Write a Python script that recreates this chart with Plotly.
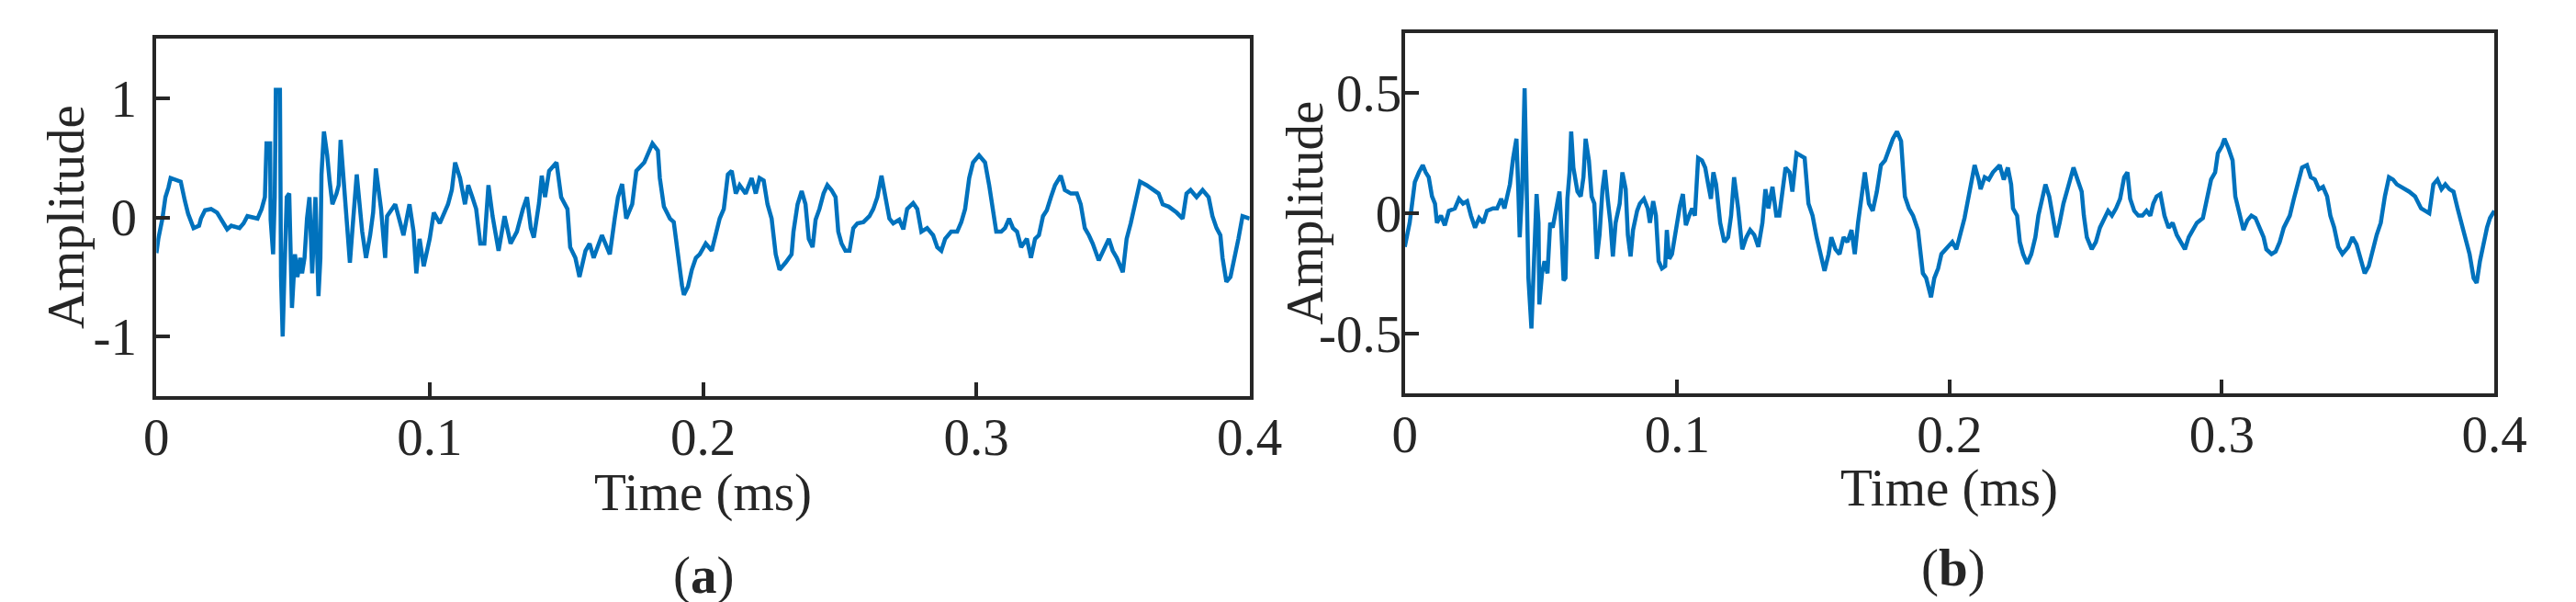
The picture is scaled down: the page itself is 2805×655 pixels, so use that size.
import plotly.graph_objects as go

# ---------------- data: panel (a) ----------------
t_a = [0.0000, 0.0007, 0.0022, 0.0033, 0.0044, 0.0052, 0.0089, 0.0096, 0.0104, 0.0116,
       0.0126, 0.0136, 0.0156, 0.0163, 0.0178, 0.0200, 0.0222, 0.0244, 0.0259, 0.0274,
       0.0304, 0.0319, 0.0333, 0.0370, 0.0385, 0.0397, 0.0403, 0.0416, 0.0418, 0.0427,
       0.0433, 0.0437, 0.0452, 0.0456, 0.0462, 0.0468, 0.0477, 0.0486, 0.0496, 0.0507,
       0.0516, 0.0526, 0.0533, 0.0542, 0.0551, 0.0560, 0.0570, 0.0582, 0.0593, 0.0600,
       0.0604, 0.0613, 0.0625, 0.0634, 0.0644, 0.0659, 0.0667, 0.0674, 0.0689, 0.0708,
       0.0719, 0.0733, 0.0753, 0.0767, 0.0782, 0.0793, 0.0803, 0.0822, 0.0837, 0.0844,
       0.0874, 0.0904, 0.0926, 0.0941, 0.0951, 0.0963, 0.0978, 0.1000, 0.1015, 0.1037,
       0.1067, 0.1081, 0.1093, 0.1111, 0.1129, 0.1141, 0.1156, 0.1170, 0.1185, 0.1200,
       0.1215, 0.1230, 0.1252, 0.1274, 0.1296, 0.1319, 0.1341, 0.1356, 0.1370, 0.1381,
       0.1400, 0.1410, 0.1422, 0.1437, 0.1464, 0.1481, 0.1504, 0.1514, 0.1533, 0.1548,
       0.1570, 0.1585, 0.1600, 0.1630, 0.1659, 0.1667, 0.1677, 0.1689, 0.1704, 0.1719,
       0.1741, 0.1756, 0.1785, 0.1815,
       0.1835, 0.1842, 0.1857, 0.1879, 0.1893, 0.1901, 0.1911, 0.1923, 0.1930, 0.1945,
       0.1959, 0.1974, 0.1988, 0.2010, 0.2032, 0.2047, 0.2061, 0.2076, 0.2091, 0.2105,
       0.2120, 0.2134, 0.2156, 0.2178, 0.2193, 0.2207, 0.2222, 0.2236, 0.2251, 0.2266,
       0.2280, 0.2302, 0.2324, 0.2331, 0.2346, 0.2361, 0.2375, 0.2387, 0.2401, 0.2412,
       0.2426, 0.2441, 0.2455, 0.2470, 0.2485, 0.2495, 0.2507, 0.2521, 0.2536, 0.2550,
       0.2565, 0.2587, 0.2609, 0.2623, 0.2638, 0.2653, 0.2667, 0.2682, 0.2696, 0.2718,
       0.2733, 0.2747, 0.2769, 0.2784, 0.2799, 0.2820, 0.2842, 0.2857, 0.2872, 0.2886,
       0.2908, 0.2930, 0.2945, 0.2959, 0.2974, 0.2988, 0.3010, 0.3032, 0.3047, 0.3061,
       0.3073, 0.3091, 0.3105, 0.3120, 0.3134, 0.3149, 0.3164, 0.3185, 0.3200, 0.3215,
       0.3229, 0.3244, 0.3258, 0.3273, 0.3288, 0.3309, 0.3324, 0.3346, 0.3368, 0.3382,
       0.3397, 0.3412, 0.3426, 0.3448, 0.3463, 0.3485, 0.3499, 0.3514, 0.3536, 0.3550,
       0.3565, 0.3587, 0.3599, 0.3623, 0.3645, 0.3667, 0.3682, 0.3704, 0.3733, 0.3755,
       0.3769, 0.3784, 0.3806, 0.3828, 0.3850, 0.3864, 0.3879, 0.3893, 0.3901, 0.3915,
       0.3930, 0.3945, 0.3959, 0.3974, 0.4000]

amp_a = [-0.30, -0.18, -0.01, 0.17, 0.25, 0.33, 0.30, 0.20, 0.14, 0.03,
         -0.02, -0.09, -0.07, -0.01, 0.06, 0.07, 0.04, -0.05, -0.10, -0.07,
         -0.09, -0.05, 0.01, -0.01, 0.07, 0.17, 0.62, 0.62, -0.02, -0.31,
         0.17, 1.07, 1.07, -0.50, -1.00, -0.50, 0.17, 0.20, -0.76, -0.31,
         -0.50, -0.34, -0.47, -0.34, -0.01, 0.17, -0.47, 0.17, -0.66, -0.34,
         0.36, 0.72, 0.52, 0.30, 0.11, 0.20, 0.27, 0.65, 0.17, -0.38,
         -0.05, 0.36, -0.12, -0.34, -0.15, 0.04, 0.41, 0.07, -0.34, 0.01,
         0.11, -0.15, 0.11, -0.12, -0.47, -0.18, -0.41, -0.18, 0.04, -0.05,
         0.11, 0.23, 0.46, 0.33, 0.11, 0.27, 0.17, 0.07, -0.22, -0.22,
         0.27, 0.01, -0.28, 0.01, -0.22, -0.12, 0.07, 0.17, -0.09, -0.17,
         0.12, 0.35, 0.17, 0.39, 0.46, 0.17, 0.07, -0.25, -0.34, -0.50,
         -0.28, -0.22, -0.34, -0.15, -0.31, -0.15, -0.01, 0.17, 0.28, -0.01,
         0.11, 0.39, 0.46, 0.62,
         0.56, 0.33, 0.09, -0.01, -0.04, -0.18, -0.38, -0.57, -0.65, -0.58,
         -0.44, -0.34, -0.31, -0.22, -0.28, -0.12, -0.01, 0.07, 0.36, 0.39,
         0.20, 0.27, 0.20, 0.33, 0.20, 0.33, 0.31, 0.11, -0.01, -0.31,
         -0.44, -0.38, -0.31, -0.12, 0.11, 0.22, 0.11, -0.18, -0.25, -0.02,
         0.07, 0.20, 0.27, 0.23, 0.17, -0.12, -0.22, -0.28, -0.28, -0.09,
         -0.05, -0.04, 0.01, 0.07, 0.17, 0.35, 0.17, -0.01, -0.05, -0.02,
         -0.10, 0.07, 0.12, 0.07, -0.12, -0.09, -0.15, -0.25, -0.28, -0.18,
         -0.12, -0.12, -0.04, 0.07, 0.33, 0.46, 0.52, 0.46, 0.27, 0.07,
         -0.12, -0.12, -0.09, -0.01, -0.09, -0.12, -0.25, -0.18, -0.34, -0.18,
         -0.15, 0.01, 0.06, 0.17, 0.27, 0.35, 0.23, 0.20, 0.20, 0.11,
         -0.09, -0.15, -0.22, -0.36, -0.28, -0.18, -0.28, -0.34, -0.46, -0.18,
         -0.05, 0.17, 0.30, 0.27, 0.23, 0.20, 0.11, 0.09, 0.04, -0.01,
         0.20, 0.23, 0.17, 0.23, 0.17, 0.01, -0.09, -0.15, -0.34, -0.54,
         -0.50, -0.34, -0.18, 0.01, -0.01]

# ---------------- data: panel (b) ----------------
t_b = [0.0000, 0.0007, 0.0018, 0.0027, 0.0037, 0.0052, 0.0066, 0.0077, 0.0088, 0.0100,
       0.0111, 0.0118, 0.0133, 0.0147, 0.0162, 0.0184, 0.0199, 0.0214, 0.0229, 0.0243,
       0.0258, 0.0273, 0.0288, 0.0302, 0.0324, 0.0339, 0.0354, 0.0366, 0.0376, 0.0386,
       0.0398, 0.0410, 0.0417, 0.0422, 0.0431, 0.0440, 0.0447, 0.0454, 0.0465, 0.0475,
       0.0484, 0.0491, 0.0494, 0.0504, 0.0513, 0.0524, 0.0534, 0.0543, 0.0553, 0.0568,
       0.0575, 0.0583, 0.0590, 0.0597, 0.0605, 0.0611, 0.0619, 0.0634, 0.0646, 0.0656,
       0.0664, 0.0676, 0.0686, 0.0696, 0.0705, 0.0715, 0.0726, 0.0735, 0.0745, 0.0755,
       0.0764, 0.0774, 0.0789, 0.0799, 0.0811, 0.0819, 0.0829, 0.0838, 0.0853, 0.0863,
       0.0878, 0.0892, 0.0900, 0.0912, 0.0922, 0.0932, 0.0944, 0.0956, 0.0962, 0.0971,
       0.0981, 0.0991, 0.1003, 0.1010, 0.1021, 0.1032, 0.1044, 0.1055, 0.1065, 0.1077,
       0.1091, 0.1103, 0.1114, 0.1124, 0.1133, 0.1143, 0.1158, 0.1173, 0.1187, 0.1198,
       0.1209, 0.1224, 0.1239, 0.1254, 0.1268, 0.1283, 0.1298, 0.1313, 0.1324, 0.1335,
       0.1350, 0.1364, 0.1375, 0.1386, 0.1398, 0.1413, 0.1423, 0.1438, 0.1453, 0.1468,
       0.1482, 0.1497, 0.1512, 0.1527, 0.1541, 0.1556, 0.1566, 0.1581, 0.1596, 0.1611,
       0.1625, 0.1640, 0.1652, 0.1664, 0.1678, 0.1689, 0.1704, 0.1718, 0.1733, 0.1748,
       0.1763, 0.1777, 0.1792, 0.1807, 0.1822, 0.1836, 0.1851, 0.1866,
       0.1884, 0.1892, 0.1902, 0.1914, 0.1926, 0.1932, 0.1944, 0.1958, 0.1970, 0.1988,
       0.2010, 0.2025, 0.2040, 0.2055, 0.2065, 0.2077, 0.2092, 0.2107, 0.2114, 0.2129,
       0.2144, 0.2159, 0.2174, 0.2184, 0.2199, 0.2214, 0.2226, 0.2233, 0.2248, 0.2258,
       0.2270, 0.2285, 0.2300, 0.2315, 0.2326, 0.2337, 0.2352, 0.2366, 0.2381, 0.2392,
       0.2404, 0.2418, 0.2433, 0.2448, 0.2455, 0.2470, 0.2485, 0.2493, 0.2504, 0.2522,
       0.2537, 0.2552, 0.2567, 0.2582, 0.2596, 0.2611, 0.2626, 0.2641, 0.2653, 0.2663,
       0.2678, 0.2693, 0.2708, 0.2723, 0.2737, 0.2748, 0.2760, 0.2774, 0.2789, 0.2804,
       0.2819, 0.2834, 0.2849, 0.2864, 0.2878, 0.2893, 0.2908, 0.2930, 0.2945, 0.2960,
       0.2975, 0.2985, 0.3000, 0.3009, 0.3024, 0.3039, 0.3049, 0.3064, 0.3079, 0.3093,
       0.3108, 0.3123, 0.3138, 0.3153, 0.3163, 0.3182, 0.3197, 0.3212, 0.3227, 0.3249,
       0.3264, 0.3279, 0.3294, 0.3312, 0.3326, 0.3341, 0.3356, 0.3371, 0.3386, 0.3398,
       0.3412, 0.3427, 0.3442, 0.3464, 0.3479, 0.3494, 0.3509, 0.3524, 0.3539, 0.3553,
       0.3568, 0.3583, 0.3598, 0.3613, 0.3628, 0.3642, 0.3657, 0.3672, 0.3687, 0.3709,
       0.3731, 0.3746, 0.3761, 0.3776, 0.3791, 0.3806, 0.3820, 0.3835, 0.3850, 0.3865,
       0.3880, 0.3895, 0.3909, 0.3924, 0.3935, 0.3947, 0.3961, 0.3973, 0.3984, 0.4000]

amp_b = [-0.14, -0.10, -0.04, 0.04, 0.13, 0.17, 0.20, 0.17, 0.15, 0.07,
         0.04, -0.04, -0.01, -0.05, 0.01, 0.02, 0.06, 0.04, 0.05, -0.01,
         -0.06, -0.02, -0.04, 0.01, 0.02, 0.02, 0.06, 0.02, 0.08, 0.12,
         0.23, 0.31, 0.09, -0.10, 0.10, 0.52, 0.14, -0.27, -0.48, -0.12,
         0.08, -0.04, -0.38, -0.25, -0.20, -0.25, -0.04, -0.06, 0.01, 0.09,
         -0.07, -0.28, -0.27, 0.06, 0.17, 0.34, 0.19, 0.09, 0.07, 0.15,
         0.31, 0.22, 0.07, 0.04, -0.19, -0.09, 0.10, 0.18, 0.06, -0.04,
         -0.18, -0.04, 0.04, 0.17, 0.10, -0.09, -0.18, -0.07, 0.01, 0.04,
         0.06, 0.02, -0.04, 0.05, -0.01, -0.20, -0.23, -0.22, -0.07, -0.19,
         -0.17, -0.10, -0.04, 0.03, 0.08, -0.05, -0.01, 0.02, -0.01, 0.23,
         0.22, 0.19, 0.12, 0.06, 0.17, 0.12, -0.04, -0.12, -0.10, -0.01,
         0.15, 0.02, -0.15, -0.10, -0.07, -0.09, -0.14, -0.04, 0.10, 0.02,
         0.11, -0.01, -0.01, 0.09, 0.19, 0.17, 0.09, 0.25, 0.24, 0.23,
         0.04, -0.01, -0.10, -0.17, -0.24, -0.17, -0.10, -0.15, -0.17, -0.10,
         -0.12, -0.07, -0.17, -0.04, 0.07, 0.17, 0.04, 0.01, 0.09, 0.20,
         0.22, 0.27, 0.31, 0.34, 0.30, 0.07, 0.02, -0.01,
         -0.07, -0.15, -0.25, -0.27, -0.33, -0.35, -0.27, -0.23, -0.17, -0.15,
         -0.12, -0.15, -0.09, -0.02, 0.04, 0.12, 0.20, 0.14, 0.10, 0.15,
         0.14, 0.17, 0.19, 0.20, 0.14, 0.19, 0.12, 0.02, -0.01, -0.12,
         -0.17, -0.21, -0.17, -0.10, -0.01, 0.04, 0.12, 0.07, -0.04, -0.10,
         -0.04, 0.04, 0.10, 0.17, 0.19, 0.14, 0.09, -0.01, -0.10, -0.15,
         -0.12, -0.06, -0.02, 0.01, -0.01, 0.02, 0.06, 0.15, 0.17, 0.06,
         0.01, -0.01, -0.01, 0.01, -0.01, 0.04, 0.07, 0.08, -0.01, -0.06,
         -0.04, -0.09, -0.12, -0.15, -0.10, -0.07, -0.04, -0.02, 0.07, 0.14,
         0.17, 0.25, 0.28, 0.31, 0.27, 0.22, 0.07, -0.01, -0.07, -0.03,
         -0.01, -0.02, -0.06, -0.10, -0.15, -0.17, -0.16, -0.12, -0.06, -0.01,
         0.06, 0.12, 0.19, 0.20, 0.15, 0.14, 0.10, 0.11, 0.07, -0.01,
         -0.06, -0.14, -0.17, -0.14, -0.10, -0.13, -0.19, -0.25, -0.22, -0.15,
         -0.09, -0.04, 0.07, 0.15, 0.14, 0.12, 0.11, 0.10, 0.09, 0.07,
         0.02, 0.01, 0.00, 0.12, 0.14, 0.10, 0.12, 0.10, 0.09, 0.02,
         -0.04, -0.10, -0.17, -0.27, -0.29, -0.20, -0.12, -0.06, -0.02, 0.01]

# ---------------- axes ticks / labels ----------------
x_tickvals = [0, 0.1, 0.2, 0.3, 0.4]
x_ticktext = ["0", "0.1", "0.2", "0.3", "0.4"]
y_tickvals_a = [-1, 0, 1]
y_ticktext_a = ["-1", "0", "1"]
y_tickvals_b = [-0.5, 0, 0.5]
y_ticktext_b = ["-0.5", "0", "0.5"]
x_label = "Time (ms)"
y_label = "Amplitude"
panel_labels = ["(<b>a</b>)", "(<b>b</b>)"]

W, H = 2805, 655
FONT = "Liberation Serif, Times New Roman, serif"
TXT = "#262626"
LINE = "#0072BD"
FS = 57

fig = go.Figure()
fig.add_trace(go.Scatter(x=t_a, y=amp_a, mode="lines",
                         line=dict(color=LINE, width=4.5), xaxis="x", yaxis="y",
                         showlegend=False))
fig.add_trace(go.Scatter(x=t_b, y=amp_b, mode="lines",
                         line=dict(color=LINE, width=4.5), xaxis="x2", yaxis="y2",
                         showlegend=False))

def xax(domain, anchor):
    return dict(domain=domain, anchor=anchor, range=[0, 0.4],
                tickmode="array", tickvals=x_tickvals, ticktext=x_ticktext,
                showgrid=False, zeroline=False, showline=True, mirror=True,
                linecolor=TXT, linewidth=4, ticks="inside", ticklen=15,
                tickwidth=4, tickcolor=TXT, ticklabelstandoff=-8,
                tickfont=dict(family=FONT, size=FS, color=TXT))

def yax(domain, anchor, rng, tv, tt, standoff):
    return dict(domain=domain, anchor=anchor, range=rng,
                tickmode="array", tickvals=tv, ticktext=tt,
                showgrid=False, zeroline=False, showline=True, mirror=True,
                linecolor=TXT, linewidth=4, ticks="inside", ticklen=15,
                tickwidth=4, tickcolor=TXT, ticklabelstandoff=standoff,
                tickfont=dict(family=FONT, size=FS, color=TXT))

xa = [151 / W, 1363 / W]
xb = [1535 / W, 2743 / W]
ya = [1 - 423 / H, 1 - 34 / H]
yb = [1 - 420 / H, 1 - 28 / H]

fig.update_layout(
    width=W, height=H,
    margin=dict(l=0, r=0, t=0, b=0),
    paper_bgcolor="white", plot_bgcolor="white",
    xaxis=xax(xa, "y"),
    yaxis=yax(ya, "x", [-1.5, 1.5], y_tickvals_a, y_ticktext_a, 6),
    xaxis2=xax(xb, "y2"),
    yaxis2=yax(yb, "x2", [-0.75, 0.75], y_tickvals_b, y_ticktext_b, -12),
)

ann = []
def add(text, xpx, ypx, angle=0):
    ann.append(dict(text=text, x=xpx / W, y=1 - ypx / H, xref="paper", yref="paper",
                    showarrow=False, textangle=angle, xanchor="center", yanchor="middle",
                    font=dict(family=FONT, size=FS, color=TXT)))

add(y_label, 50, 228, -90)
add(y_label, 1424, 224, -90)
add(x_label, 757, 528)
add(x_label, 2139, 523)
add(panel_labels[0], 757, 618)
add(panel_labels[1], 2143, 610)
fig.update_layout(annotations=ann)

fig.write_html("out.html")
